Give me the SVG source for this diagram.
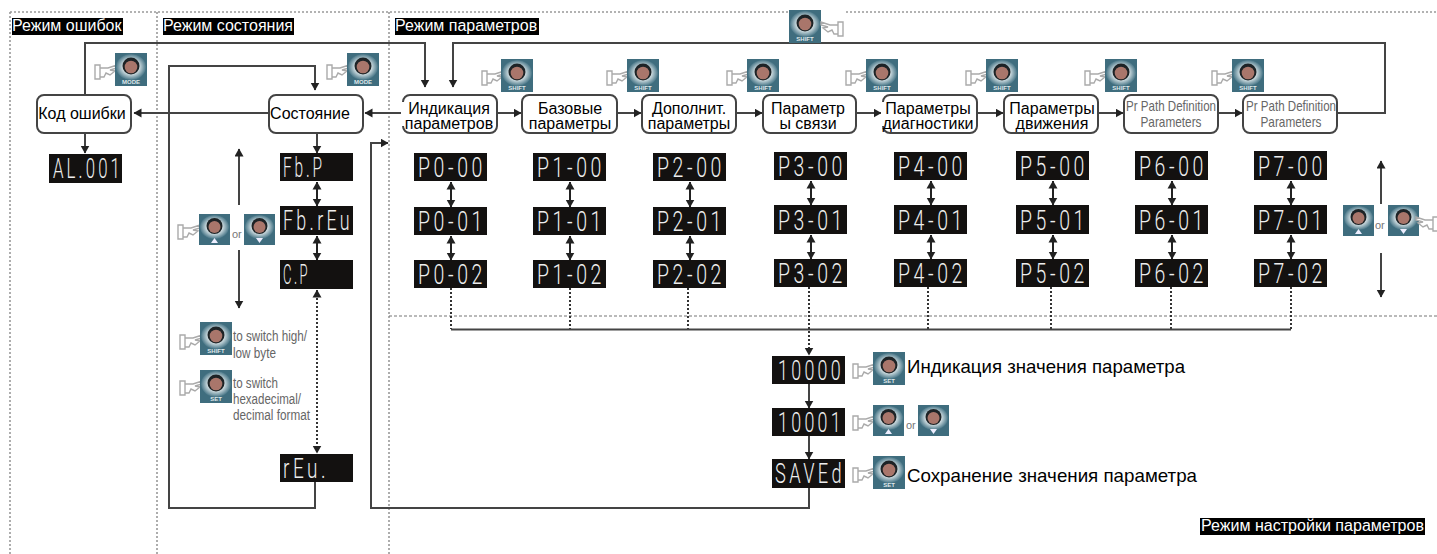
<svg xmlns="http://www.w3.org/2000/svg" width="1437" height="554" viewBox="0 0 1437 554">
<style>
text{font-family:"Liberation Sans",Arial,sans-serif}
.bg{fill:#fff}
.region{fill:none;stroke:#999;stroke-width:1.6;stroke-dasharray:2 2}
.regionb{fill:none;stroke:#777;stroke-width:1.2;stroke-dasharray:3 2}
.c{fill:none;stroke:#444;stroke-width:2}
.a{marker-end:url(#ah)}
.d{marker-start:url(#ahs);marker-end:url(#ah);stroke:#222}
.dot{fill:none;stroke:#333;stroke-width:2;stroke-dasharray:2 2}
.box{fill:#fff;stroke:#444;stroke-width:2}
.nt{font-size:16px;fill:#000;text-anchor:middle}
.nts{font-size:15px;fill:#666;text-anchor:middle}
.lb{fill:#000}
.lt{font-size:16px;fill:#fff}
.dsp{fill:#131110}
.seg{font-family:Roboto,"Liberation Sans",sans-serif;font-weight:300;font-size:27px;fill:#eee;letter-spacing:5px}
.note{font-size:14px;fill:#666}
.big{font-size:18.500px;fill:#000}
.or{font-size:11px;fill:#777}
.bl{font-size:6px;font-weight:bold;fill:#dfe8ea;text-anchor:middle}
</style>
<defs>
<marker id="ah" markerUnits="userSpaceOnUse" markerWidth="9" markerHeight="10" refX="7.500" refY="4.500" orient="auto"><path d="M0 0L8 4.500L0 9Z" fill="#222"/></marker>
<marker id="ahs" markerUnits="userSpaceOnUse" markerWidth="9" markerHeight="10" refX="0.500" refY="4.500" orient="auto"><path d="M8 0L0 4.500L8 9Z" fill="#222"/></marker>
<radialGradient id="ring"><stop offset="0.55" stop-color="#cfdde1"/><stop offset="1" stop-color="#4a7788"/></radialGradient>
<g id="face"><rect width="32" height="33" fill="#3f6d7e"/><ellipse cx="16" cy="14" rx="15" ry="13" fill="url(#ring)"/><circle cx="16" cy="13" r="8.500" fill="#1d2326"/><circle cx="16" cy="14" r="6.300" fill="#a9766b"/></g>
<path id="hand" d="M0 3H5V17H0ZM5 6H13L22 3V6L15 8L20 9L15 13L11 11L9 15H5" fill="#fff" stroke="#aaa" stroke-width="1.400"/>
<g id="bMODE"><use href="#face"/><text class="bl" x="16" y="31">MODE</text></g>
<g id="bSHIFT"><use href="#face"/><text class="bl" x="16" y="31">SHIFT</text></g>
<g id="bSET"><use href="#face"/><text class="bl" x="16" y="31">SET</text></g>
<g id="bUP"><rect width="31" height="31" fill="#3f6d7e"/><ellipse cx="15.500" cy="13" rx="14.500" ry="12" fill="url(#ring)"/><circle cx="15.500" cy="12" r="8" fill="#1d2326"/><circle cx="15.500" cy="13" r="6" fill="#a9766b"/><path d="M15.500 24L19 29H12Z" fill="#eef"/></g>
<g id="bDN"><rect width="31" height="31" fill="#3f6d7e"/><ellipse cx="15.500" cy="13" rx="14.500" ry="12" fill="url(#ring)"/><circle cx="15.500" cy="12" r="8" fill="#1d2326"/><circle cx="15.500" cy="13" r="6" fill="#a9766b"/><path d="M15.500 29L19 24H12Z" fill="#eef"/></g>
</defs>
<rect class="bg" width="1437" height="554"/>

<g id="regions">
<path class="region" d="M10 12V554M157 12V554M389 12V554M10 12H1437"/>
<path class="regionb" d="M389 316H1437"/>
</g>

<g id="connectors">
<path class="c a" d="M85 95V43H425V87"/>
<path class="c a" d="M1337 113H1385V43H453V87"/>
<path class="c a" d="M315 482V508H169V66H315V90"/>
<path class="c a" d="M809 488V508H371V143H388"/>
<path class="c a" d="M269 113H134"/>
<path class="c a" d="M403 113H365"/>
<path class="c a" d="M85 133V153"/>
<path class="c a" d="M317 134V153"/>
<path class="c a" d="M497 113H521"/>
<path class="c a" d="M617 113H641"/>
<path class="c a" d="M736 113H762"/>
<path class="c a" d="M856 113H881"/>
<path class="c a" d="M977 113H1003"/>
<path class="c a" d="M1098 113H1123"/>
<path class="c a" d="M1218 113H1242"/>
<path class="c d" d="M317 182V206"/><path class="c d" d="M317 236V260"/>
<path class="c d" d="M451 182V207"/><path class="c d" d="M451 236V260"/>
<path class="c d" d="M570 182V207"/><path class="c d" d="M570 236V260"/>
<path class="c d" d="M690 182V207"/><path class="c d" d="M690 236V260"/>
<path class="c d" d="M811 181V205"/><path class="c d" d="M811 235V259"/>
<path class="c d" d="M931 181V205"/><path class="c d" d="M931 235V259"/>
<path class="c d" d="M1053 181V205"/><path class="c d" d="M1053 235V259"/>
<path class="c d" d="M1172 181V205"/><path class="c d" d="M1172 235V259"/>
<path class="c d" d="M1291 181V205"/><path class="c d" d="M1291 235V259"/>
<path class="dot d" d="M317 290V453"/>
<path class="dot" d="M451 288V329M570 288V329M688 288V329M928 287V329M1051 287V329M1171 287V329M1291 287V329"/>
<path class="c" d="M451 329.500H1291"/>
<path class="dot a" d="M809 287V355"/>
<path class="c a" d="M809 384V408"/>
<path class="c a" d="M809 436V459"/>
<path class="c a" d="M239 205V149"/>
<path class="c a" d="M239 250V308"/>
<path class="c a" d="M1381 204V161"/>
<path class="c a" d="M1381 253V297"/>
</g>

<g id="label-error"><rect class="lb" x="12" y="18" width="111" height="17"/><text class="lt" x="12" y="31">Режим ошибок</text></g>
<g id="label-status"><rect class="lb" x="163" y="18" width="131" height="17"/><text class="lt" x="163" y="31">Режим состояния</text></g>
<g id="label-param"><rect class="lb" x="395" y="18" width="144" height="17"/><text class="lt" x="395" y="31">Режим параметров</text></g>
<g id="label-setting"><rect class="lb" x="1200" y="518" width="225" height="17"/><text class="lt" x="1201" y="531" textLength="223" lengthAdjust="spacingAndGlyphs">Режим настройки параметров</text></g>

<g id="n-error"><rect class="box" x="37" y="95" width="94" height="38" rx="7"/><text class="nt" x="82" y="119">Код ошибки</text></g>
<g id="n-status"><rect class="box" x="269" y="95" width="94" height="38" rx="7"/><text class="nt" x="310" y="119">Состояние</text></g>
<g id="n-p0"><rect class="box" x="403" y="95" width="94" height="38" rx="7"/><rect class="bg" x="401" y="102" width="6" height="24"/><text class="nt" x="449" y="114">Индикация</text><text class="nt" x="449" y="129">параметров</text></g>
<g id="n-p1"><rect class="box" x="522" y="95" width="95" height="38" rx="7"/><text class="nt" x="570" y="114">Базовые</text><text class="nt" x="570" y="129">параметры</text></g>
<g id="n-p2"><rect class="box" x="642" y="95" width="94" height="38" rx="7"/><text class="nt" x="689" y="114">Дополнит.</text><text class="nt" x="689" y="129">параметры</text></g>
<g id="n-p3"><rect class="box" x="763" y="95" width="93" height="38" rx="7"/><text class="nt" x="808" y="114">Параметр</text><text class="nt" x="808" y="129">ы связи</text></g>
<g id="n-p4"><rect class="box" x="883" y="95" width="94" height="38" rx="7"/><rect class="bg" x="881" y="102" width="6" height="24"/><text class="nt" x="928" y="114">Параметры</text><text class="nt" x="928" y="129">диагностики</text></g>
<g id="n-p5"><rect class="box" x="1004" y="95" width="94" height="38" rx="7"/><text class="nt" x="1052" y="114">Параметры</text><text class="nt" x="1052" y="129">движения</text></g>
<g id="n-p6"><rect class="box" x="1124" y="95" width="94" height="38" rx="7"/><text class="nts" x="1171" y="111" textLength="90" lengthAdjust="spacingAndGlyphs">Pr Path Definition</text><text class="nts" x="1171" y="127" textLength="61" lengthAdjust="spacingAndGlyphs">Parameters</text></g>
<g id="n-p7"><rect class="box" x="1243" y="95" width="94" height="38" rx="7"/><text class="nts" x="1291" y="111" textLength="90" lengthAdjust="spacingAndGlyphs">Pr Path Definition</text><text class="nts" x="1291" y="127" textLength="61" lengthAdjust="spacingAndGlyphs">Parameters</text></g>

<g id="d-al"><rect class="dsp" x="49" y="154" width="73" height="29"/><text class="seg" x="53" y="178" textLength="70" lengthAdjust="spacingAndGlyphs">AL.001</text></g>
<g id="d-fbp"><rect class="dsp" x="280" y="153" width="73" height="28"/><text class="seg" x="283" y="177" textLength="42" lengthAdjust="spacingAndGlyphs">Fb.P</text></g>
<g id="d-fbrev"><rect class="dsp" x="280" y="206" width="73" height="29"/><text class="seg" x="283" y="230" textLength="70" lengthAdjust="spacingAndGlyphs">Fb.rEu</text></g>
<g id="d-cp"><rect class="dsp" x="280" y="260" width="73" height="29"/><text class="seg" x="283" y="284" textLength="27" lengthAdjust="spacingAndGlyphs">C.P</text></g>
<g id="d-rev"><rect class="dsp" x="280" y="454" width="73" height="28"/><text class="seg" x="283" y="478" textLength="46" lengthAdjust="spacingAndGlyphs">rEu.</text></g>

<g id="d-p0"><rect class="dsp" x="414" y="153" width="73" height="28"/><text class="seg" x="418" y="177" textLength="68" lengthAdjust="spacingAndGlyphs">P0-00</text><rect class="dsp" x="414" y="207" width="73" height="28"/><text class="seg" x="418" y="231" textLength="68" lengthAdjust="spacingAndGlyphs">P0-01</text><rect class="dsp" x="414" y="260" width="73" height="28"/><text class="seg" x="418" y="284" textLength="68" lengthAdjust="spacingAndGlyphs">P0-02</text></g>
<g id="d-p1"><rect class="dsp" x="533" y="153" width="73" height="28"/><text class="seg" x="537" y="177" textLength="68" lengthAdjust="spacingAndGlyphs">P1-00</text><rect class="dsp" x="533" y="207" width="73" height="28"/><text class="seg" x="537" y="231" textLength="68" lengthAdjust="spacingAndGlyphs">P1-01</text><rect class="dsp" x="533" y="260" width="73" height="28"/><text class="seg" x="537" y="284" textLength="68" lengthAdjust="spacingAndGlyphs">P1-02</text></g>
<g id="d-p2"><rect class="dsp" x="653" y="153" width="73" height="28"/><text class="seg" x="657" y="177" textLength="68" lengthAdjust="spacingAndGlyphs">P2-00</text><rect class="dsp" x="653" y="207" width="73" height="28"/><text class="seg" x="657" y="231" textLength="68" lengthAdjust="spacingAndGlyphs">P2-01</text><rect class="dsp" x="653" y="260" width="73" height="28"/><text class="seg" x="657" y="284" textLength="68" lengthAdjust="spacingAndGlyphs">P2-02</text></g>
<g id="d-p3"><rect class="dsp" x="774" y="152" width="73" height="28"/><text class="seg" x="778" y="176" textLength="68" lengthAdjust="spacingAndGlyphs">P3-00</text><rect class="dsp" x="774" y="205" width="73" height="29"/><text class="seg" x="778" y="230" textLength="68" lengthAdjust="spacingAndGlyphs">P3-01</text><rect class="dsp" x="774" y="259" width="73" height="28"/><text class="seg" x="778" y="283" textLength="68" lengthAdjust="spacingAndGlyphs">P3-02</text></g>
<g id="d-p4"><rect class="dsp" x="894" y="152" width="73" height="28"/><text class="seg" x="898" y="176" textLength="68" lengthAdjust="spacingAndGlyphs">P4-00</text><rect class="dsp" x="894" y="205" width="73" height="29"/><text class="seg" x="898" y="230" textLength="68" lengthAdjust="spacingAndGlyphs">P4-01</text><rect class="dsp" x="894" y="259" width="73" height="28"/><text class="seg" x="898" y="283" textLength="68" lengthAdjust="spacingAndGlyphs">P4-02</text></g>
<g id="d-p5"><rect class="dsp" x="1016" y="151" width="73" height="29"/><text class="seg" x="1020" y="176" textLength="68" lengthAdjust="spacingAndGlyphs">P5-00</text><rect class="dsp" x="1016" y="205" width="73" height="29"/><text class="seg" x="1020" y="230" textLength="68" lengthAdjust="spacingAndGlyphs">P5-01</text><rect class="dsp" x="1016" y="259" width="73" height="28"/><text class="seg" x="1020" y="283" textLength="68" lengthAdjust="spacingAndGlyphs">P5-02</text></g>
<g id="d-p6"><rect class="dsp" x="1135" y="151" width="73" height="29"/><text class="seg" x="1139" y="176" textLength="68" lengthAdjust="spacingAndGlyphs">P6-00</text><rect class="dsp" x="1135" y="205" width="73" height="29"/><text class="seg" x="1139" y="230" textLength="68" lengthAdjust="spacingAndGlyphs">P6-01</text><rect class="dsp" x="1135" y="259" width="73" height="28"/><text class="seg" x="1139" y="283" textLength="68" lengthAdjust="spacingAndGlyphs">P6-02</text></g>
<g id="d-p7"><rect class="dsp" x="1254" y="151" width="73" height="29"/><text class="seg" x="1258" y="176" textLength="68" lengthAdjust="spacingAndGlyphs">P7-00</text><rect class="dsp" x="1254" y="205" width="73" height="29"/><text class="seg" x="1258" y="230" textLength="68" lengthAdjust="spacingAndGlyphs">P7-01</text><rect class="dsp" x="1254" y="259" width="73" height="28"/><text class="seg" x="1258" y="283" textLength="68" lengthAdjust="spacingAndGlyphs">P7-02</text></g>

<g id="d-value"><rect class="dsp" x="772" y="356" width="73" height="28"/><text class="seg" x="778" y="380" textLength="66" lengthAdjust="spacingAndGlyphs">10000</text></g>
<g id="d-edit"><rect class="dsp" x="772" y="408" width="73" height="28"/><text class="seg" x="778" y="432" textLength="66" lengthAdjust="spacingAndGlyphs">10001</text></g>
<g id="d-saved"><rect class="dsp" x="772" y="459" width="73" height="29"/><text class="seg" x="775" y="483" textLength="70" lengthAdjust="spacingAndGlyphs">SAVEd</text></g>

<g id="buttons">
<use href="#hand" x="95" y="62"/><use href="#bMODE" x="115" y="53"/>
<use href="#hand" x="327" y="62"/><use href="#bMODE" x="347" y="53"/>
<use href="#hand" x="482" y="68"/><use href="#bSHIFT" x="501" y="59"/>
<use href="#hand" x="607" y="68"/><use href="#bSHIFT" x="627" y="59"/>
<use href="#hand" x="727" y="68"/><use href="#bSHIFT" x="747" y="59"/>
<use href="#hand" x="846" y="68"/><use href="#bSHIFT" x="866" y="59"/>
<use href="#hand" x="966" y="68"/><use href="#bSHIFT" x="986" y="59"/>
<use href="#hand" x="1085" y="68"/><use href="#bSHIFT" x="1105" y="59"/>
<use href="#hand" x="1212" y="68"/><use href="#bSHIFT" x="1232" y="59"/>
<rect class="bg" x="821" y="9" width="24" height="26"/>
<use href="#bSHIFT" x="789" y="10"/><use href="#hand" transform="translate(843 19) scale(-1 1)"/>
<use href="#hand" x="178" y="222"/><use href="#bUP" x="199" y="214"/><text class="or" x="232" y="238">or</text><use href="#bDN" x="244" y="214"/>
<use href="#bUP" x="1343" y="205"/><text class="or" x="1375" y="229">or</text><use href="#bDN" x="1388" y="205"/><use href="#hand" transform="translate(1438 214) scale(-1 1)"/>
<use href="#hand" x="180" y="332"/><use href="#bSHIFT" x="200" y="322"/>
<use href="#hand" x="180" y="378"/><use href="#bSET" x="200" y="370"/>
<use href="#hand" x="853" y="361"/><use href="#bSET" x="873" y="352"/>
<use href="#hand" x="853" y="413"/><use href="#bUP" x="873" y="405"/><text class="or" x="906" y="429">or</text><use href="#bDN" x="918" y="405"/>
<use href="#hand" x="853" y="465"/><use href="#bSET" x="873" y="456"/>
</g>

<g id="notes">
<text class="note" x="233" y="341" textLength="74" lengthAdjust="spacingAndGlyphs">to switch high/</text>
<text class="note" x="233" y="358" textLength="43" lengthAdjust="spacingAndGlyphs">low byte</text>
<text class="note" x="233" y="388" textLength="45" lengthAdjust="spacingAndGlyphs">to switch</text>
<text class="note" x="233" y="404" textLength="68" lengthAdjust="spacingAndGlyphs">hexadecimal/</text>
<text class="note" x="233" y="420" textLength="77" lengthAdjust="spacingAndGlyphs">decimal format</text>
<text class="big" x="907" y="373" textLength="278" lengthAdjust="spacingAndGlyphs">Индикация значения параметра</text>
<text class="big" x="907" y="482" textLength="290" lengthAdjust="spacingAndGlyphs">Сохранение значения параметра</text>
</g>
</svg>
